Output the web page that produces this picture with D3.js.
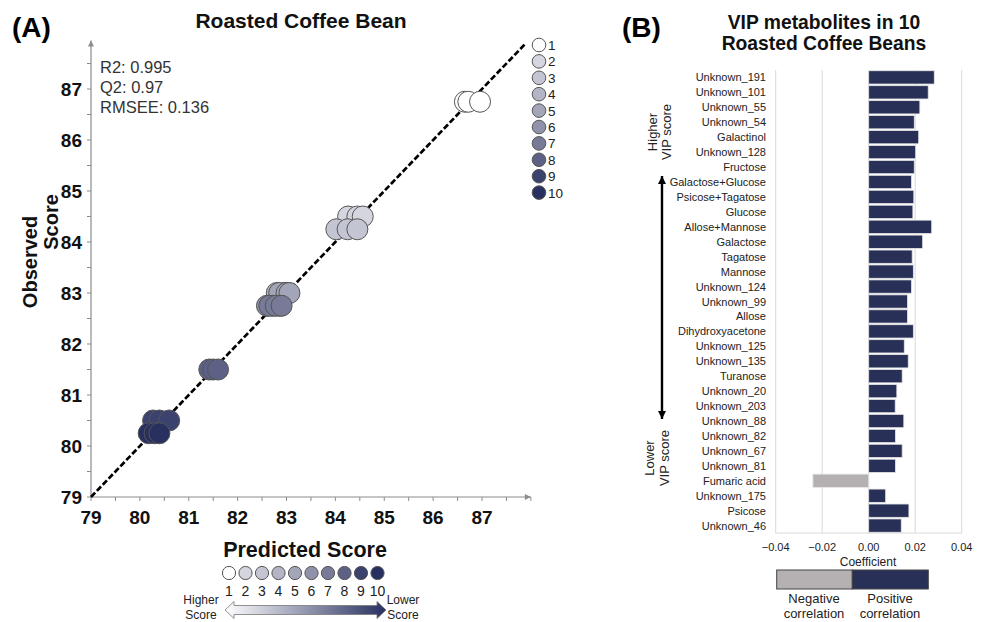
<!DOCTYPE html>
<html>
<head>
<meta charset="utf-8">
<script src="https://cdn.jsdelivr.net/npm/d3@7"></script>
<style>
  html, body { margin: 0; padding: 0; background: #fff; }
  svg { display: block; font-family: "Liberation Sans", Arial, sans-serif; }
</style>
</head>
<body>
<svg id="chart" width="981" height="622"></svg>
<script>
// ---- Panel A data: predicted vs observed scores per coffee (3 replicates each) ----
const groups = [1, 2, 3, 4, 5, 6, 7, 8, 9, 10];
const groupColors = ["#ffffff", "#d4d5df", "#c3c5d2", "#b3b5c6", "#a3a6b9",
                     "#8f92aa", "#777b98", "#5d6185", "#3c426e", "#283060"];
const observed = [86.75, 84.5, 84.25, 83.0, 83.0, 82.75, 82.75, 81.5, 80.5, 80.25];
const predicted = [
  [86.65, 86.72, 86.96],
  [84.26, 84.45, 84.56],
  [84.02, 84.25, 84.45],
  [82.80, 82.95, 83.03],
  [82.85, 83.00, 83.06],
  [82.60, 82.72, 82.86],
  [82.65, 82.78, 82.90],
  [81.42, 81.50, 81.60],
  [80.27, 80.40, 80.60],
  [80.18, 80.30, 80.40]
];
const scoreTicks = [79, 80, 81, 82, 83, 84, 85, 86, 87];
const statsText = ["R2: 0.995", "Q2: 0.97", "RMSEE: 0.136"];

// ---- Panel B data: PLS coefficients of VIP metabolites ----
const metabolites = ["Unknown_191", "Unknown_101", "Unknown_55", "Unknown_54", "Galactinol",
  "Unknown_128", "Fructose", "Galactose+Glucose", "Psicose+Tagatose", "Glucose",
  "Allose+Mannose", "Galactose", "Tagatose", "Mannose", "Unknown_124", "Unknown_99",
  "Allose", "Dihydroxyacetone", "Unknown_125", "Unknown_135", "Turanose", "Unknown_20",
  "Unknown_203", "Unknown_88", "Unknown_82", "Unknown_67", "Unknown_81", "Fumaric acid",
  "Unknown_175", "Psicose", "Unknown_46"];
const coefficients = [0.0282, 0.0256, 0.0220, 0.0196, 0.0215,
  0.0202, 0.0196, 0.0184, 0.0194, 0.0190,
  0.0271, 0.0232, 0.0187, 0.0192, 0.0184, 0.0167,
  0.0167, 0.0192, 0.0153, 0.0170, 0.0144, 0.0121,
  0.0114, 0.0151, 0.0115, 0.0144, 0.0115, -0.0240,
  0.0073, 0.0173, 0.0140];
const coefTicks = [-0.04, -0.02, 0.00, 0.02, 0.04];

const NAVY = "#283058";
const NEG = "#b5b1b2";
const AXIS_GRAY = "#8c8c8c";

const svg = d3.select("#chart");

// ======================= Panel A =======================
const x = d3.scaleLinear().domain([79, 87]).range([91, 482]);
const y = d3.scaleLinear().domain([79, 87]).range([497, 89]);
const A = svg.append("g");

// panel letter and title
A.append("text").attr("x", 12).attr("y", 37).attr("font-size", 28).attr("font-weight", "bold")
  .text("(A)");
A.append("text").attr("x", 301).attr("y", 28).attr("text-anchor", "middle")
  .attr("font-size", 21).attr("font-weight", "bold").attr("fill", "#111").text("Roasted Coffee Bean");

// arrow markers for axes
const defs = svg.append("defs");
defs.append("marker").attr("id", "axArrow").attr("viewBox", "0 0 10 10")
  .attr("refX", 10).attr("refY", 5).attr("markerWidth", 10).attr("markerHeight", 6)
  .attr("markerUnits", "userSpaceOnUse").attr("orient", "auto")
  .append("path").attr("d", "M0,0 L10,5 L0,10 Z").attr("fill", AXIS_GRAY);

// x axis with half-unit minor ticks
const xMinor = d3.range(79, 88.01, 0.5);
const xAxisG = A.append("g").attr("transform", `translate(0,${y(79)})`);
xAxisG.append("line").attr("x1", x(79)).attr("x2", x(88.0)).attr("stroke", AXIS_GRAY)
  .attr("stroke-width", 1.2).attr("marker-end", "url(#axArrow)");
xAxisG.selectAll("line.tick").data(xMinor).join("line").attr("class", "tick")
  .attr("x1", d => x(d)).attr("x2", d => x(d)).attr("y1", 0).attr("y2", 4)
  .attr("stroke", AXIS_GRAY);
xAxisG.selectAll("text").data(scoreTicks).join("text")
  .attr("x", d => x(d)).attr("y", 27).attr("text-anchor", "middle")
  .attr("font-size", 19).attr("font-weight", "bold").attr("fill", "#111").text(d => d);

// y axis
const yMinor = d3.range(79, 88.01, 0.5);
const yAxisG = A.append("g").attr("transform", `translate(${x(79)},0)`);
yAxisG.append("line").attr("y1", y(79)).attr("y2", y(87.95)).attr("stroke", AXIS_GRAY)
  .attr("stroke-width", 1.2).attr("marker-end", "url(#axArrow)");
yAxisG.selectAll("line.tick").data(yMinor.filter(d => d < 87.9)).join("line").attr("class", "tick")
  .attr("y1", d => y(d)).attr("y2", d => y(d)).attr("x1", 0).attr("x2", -4)
  .attr("stroke", AXIS_GRAY);
yAxisG.selectAll("text").data(scoreTicks).join("text")
  .attr("x", -9).attr("y", d => y(d) + 7).attr("text-anchor", "end")
  .attr("font-size", 19).attr("font-weight", "bold").attr("fill", "#111").text(d => d);

// axis titles
A.append("text").attr("transform", "translate(37,262) rotate(-90)").attr("text-anchor", "middle")
  .attr("font-size", 20).attr("font-weight", "bold").attr("fill", "#111").text("Observed");
A.append("text").attr("transform", "translate(58,222) rotate(-90)").attr("text-anchor", "middle")
  .attr("font-size", 20).attr("font-weight", "bold").attr("fill", "#111").text("Score");
A.append("text").attr("x", 305).attr("y", 557).attr("text-anchor", "middle")
  .attr("font-size", 21.5).attr("font-weight", "bold").attr("fill", "#111").text("Predicted Score");

// statistics
A.selectAll("text.stat").data(statsText).join("text").attr("class", "stat")
  .attr("x", 100).attr("y", (d, i) => 73 + i * 20).attr("font-size", 16.5).attr("fill", "#333")
  .text(d => d);

// identity line
A.append("line").attr("x1", x(79)).attr("y1", y(79)).attr("x2", x(87.9)).attr("y2", y(87.9))
  .attr("stroke", "#000").attr("stroke-width", 2.7).attr("stroke-dasharray", "6,2.5");

// points
const pts = [];
groups.forEach((g, i) => predicted[i].forEach(p => pts.push({ g, i, p, o: observed[i] })));
A.selectAll("circle.pt").data(pts).join("circle").attr("class", "pt")
  .attr("cx", d => x(d.p)).attr("cy", d => y(d.o)).attr("r", 10.5)
  .attr("fill", d => groupColors[d.i]).attr("stroke", "#555").attr("stroke-width", 1);

// vertical legend (top right)
const legV = A.append("g");
legV.selectAll("circle").data(groups).join("circle")
  .attr("cx", 539).attr("cy", (d, i) => 45 + i * 16.4).attr("r", 6.8)
  .attr("fill", (d, i) => groupColors[i]).attr("stroke", "#555").attr("stroke-width", 1);
legV.selectAll("text").data(groups).join("text")
  .attr("x", 548).attr("y", (d, i) => 50 + i * 16.4).attr("font-size", 13.5).attr("fill", "#222")
  .text(d => d);

// horizontal legend below predicted score title
const legH = A.append("g");
legH.selectAll("circle").data(groups).join("circle")
  .attr("cx", (d, i) => 229 + i * 16.5).attr("cy", 573).attr("r", 6.6)
  .attr("fill", (d, i) => groupColors[i]).attr("stroke", "#555").attr("stroke-width", 1);
legH.selectAll("text").data(groups).join("text")
  .attr("x", (d, i) => 229 + i * 16.5).attr("y", 596).attr("text-anchor", "middle")
  .attr("font-size", 14).attr("fill", "#222").text(d => d);

// gradient double arrow
const grad = defs.append("linearGradient").attr("id", "scoreGrad")
  .attr("x1", "0%").attr("x2", "100%").attr("y1", "0%").attr("y2", "0%");
grad.append("stop").attr("offset", "0%").attr("stop-color", "#ffffff");
grad.append("stop").attr("offset", "100%").attr("stop-color", "#283060");
const ay = 610, ax0 = 225, ax1 = 386, head = 9, bodyH = 4.5, headH = 8.5;
A.append("path")
  .attr("d", `M${ax0},${ay} L${ax0 + head},${ay - headH} L${ax0 + head},${ay - bodyH}
    L${ax1 - head},${ay - bodyH} L${ax1 - head},${ay - headH} L${ax1},${ay}
    L${ax1 - head},${ay + headH} L${ax1 - head},${ay + bodyH} L${ax0 + head},${ay + bodyH}
    L${ax0 + head},${ay + headH} Z`)
  .attr("fill", "url(#scoreGrad)").attr("stroke", "#777").attr("stroke-width", 0.8);
[["Higher", 201, 604], ["Score", 201, 619], ["Lower", 403, 604], ["Score", 403, 619]].forEach(t => {
  A.append("text").attr("x", t[1]).attr("y", t[2]).attr("text-anchor", "middle")
    .attr("font-size", 12).attr("fill", "#222").text(t[0]);
});

// ======================= Panel B =======================
const B = svg.append("g");
const bx = d3.scaleLinear().domain([-0.04, 0.04]).range([775.7, 961.7]);
const by = d3.scaleBand().domain(metabolites).range([70, 533]).paddingInner(0.11).paddingOuter(0.05);

B.append("text").attr("x", 622).attr("y", 37).attr("font-size", 28).attr("font-weight", "bold")
  .text("(B)");
B.append("text").attr("x", 824).attr("y", 29).attr("text-anchor", "middle")
  .attr("font-size", 19.3).attr("font-weight", "bold").attr("fill", "#111").text("VIP metabolites in 10");
B.append("text").attr("x", 824).attr("y", 50).attr("text-anchor", "middle")
  .attr("font-size", 19.3).attr("font-weight", "bold").attr("fill", "#111").text("Roasted Coffee Beans");

// gridlines
B.selectAll("line.grid").data(coefTicks).join("line").attr("class", "grid")
  .attr("x1", d => bx(d)).attr("x2", d => bx(d)).attr("y1", 70).attr("y2", 533)
  .attr("stroke", "#d9d9d9").attr("stroke-width", 1);
B.append("line").attr("x1", bx(-0.04)).attr("x2", bx(0.04)).attr("y1", 533).attr("y2", 533)
  .attr("stroke", "#d9d9d9");

// x axis labels
B.selectAll("text.tick").data(coefTicks).join("text").attr("class", "tick")
  .attr("x", d => bx(d)).attr("y", 551).attr("text-anchor", "middle")
  .attr("font-size", 11).attr("fill", "#222").text(d => d3.format(".2f")(d));
B.append("text").attr("x", 868).attr("y", 566).attr("text-anchor", "middle")
  .attr("font-size", 12).attr("fill", "#222").text("Coefficient");

// bars
B.selectAll("rect.bar").data(metabolites).join("rect").attr("class", "bar")
  .attr("x", (d, i) => bx(Math.min(0, coefficients[i])))
  .attr("width", (d, i) => Math.abs(bx(coefficients[i]) - bx(0)))
  .attr("y", d => by(d)).attr("height", by.bandwidth())
  .attr("fill", (d, i) => coefficients[i] < 0 ? NEG : NAVY)
  .attr("stroke", "#e6e6e6").attr("stroke-width", 0.8);

// category labels
B.selectAll("text.cat").data(metabolites).join("text").attr("class", "cat")
  .attr("x", 766).attr("y", d => by(d) + by.bandwidth() / 2 + 4).attr("text-anchor", "end")
  .attr("font-size", 11).attr("fill", "#222").text(d => d);

// VIP rank annotation
B.append("text").attr("transform", "translate(657,132) rotate(-90)").attr("text-anchor", "middle")
  .attr("font-size", 13).attr("fill", "#222").text("Higher");
B.append("text").attr("transform", "translate(671,132) rotate(-90)").attr("text-anchor", "middle")
  .attr("font-size", 13).attr("fill", "#222").text("VIP score");
B.append("text").attr("transform", "translate(654,458) rotate(-90)").attr("text-anchor", "middle")
  .attr("font-size", 13).attr("fill", "#222").text("Lower");
B.append("text").attr("transform", "translate(669,458) rotate(-90)").attr("text-anchor", "middle")
  .attr("font-size", 13).attr("fill", "#222").text("VIP score");
defs.append("marker").attr("id", "vipArrow").attr("viewBox", "0 0 10 10")
  .attr("refX", 10).attr("refY", 5).attr("markerWidth", 8).attr("markerHeight", 8)
  .attr("markerUnits", "userSpaceOnUse").attr("orient", "auto-start-reverse")
  .append("path").attr("d", "M0,0 L10,5 L0,10 Z").attr("fill", "#000");
B.append("line").attr("x1", 662).attr("x2", 662).attr("y1", 176).attr("y2", 419)
  .attr("stroke", "#000").attr("stroke-width", 2.4)
  .attr("marker-start", "url(#vipArrow)").attr("marker-end", "url(#vipArrow)");

// correlation legend
const lx0 = 776.7, lxm = 852.3, lx1 = 928.3;
B.append("rect").attr("x", lx0).attr("y", 570).attr("width", lxm - lx0).attr("height", 19)
  .attr("fill", NEG).attr("stroke", "#444").attr("stroke-width", 1);
B.append("rect").attr("x", lxm).attr("y", 570).attr("width", lx1 - lxm).attr("height", 19)
  .attr("fill", NAVY).attr("stroke", "#444").attr("stroke-width", 1);
[["Negative", 814, 603], ["correlation", 814, 618], ["Positive", 890, 603], ["correlation", 890, 618]]
  .forEach(t => {
    B.append("text").attr("x", t[1]).attr("y", t[2]).attr("text-anchor", "middle")
      .attr("font-size", 13).attr("fill", "#222").text(t[0]);
  });
</script>
</body>
</html>
